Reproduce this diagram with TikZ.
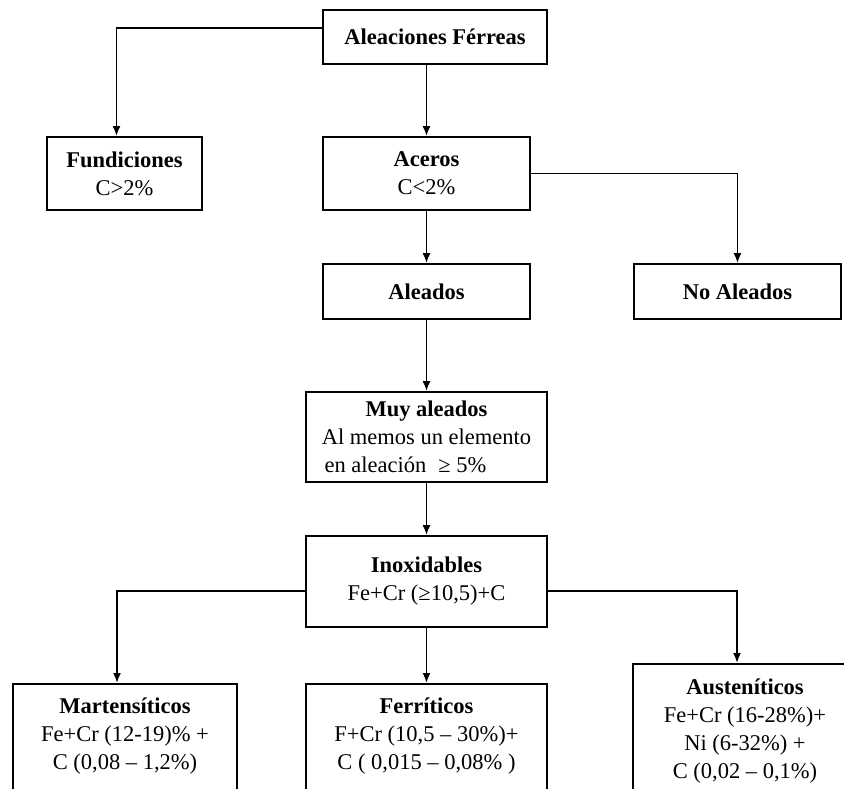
\documentclass[tikz,border=0pt]{standalone}
\usepackage{fontspec}
\setmainfont{Liberation Serif}
\usetikzlibrary{shapes,arrows.meta}
\tikzstyle{block} = [rectangle, draw, line width=1.8pt, align=center,
    inner sep=6pt, font=\fontsize{22.5}{28}\selectfont]
\tikzstyle{lowblock} = [block, anchor=north, inner ysep=14pt]
\tikzstyle{link} = [draw, line width=1.8pt, -{Latex[length=10pt,width=8pt]}]

\begin{document}
\begin{tikzpicture}[x=1pt, y=-1pt, node distance=136.5pt]
    \clip (0,0) rectangle (844,789);
    % Place nodes
    \node [block, minimum width=224pt, minimum height=54pt] (fer) at (435,37) {\textbf{Aleaciones Férreas}};
    \node [block, below of=fer, xshift=-8.5pt, minimum width=207pt, minimum height=73pt] (ace) {\textbf{Aceros}\\C<2\%};
    \node [block, left of=ace, node distance=302pt, minimum width=155pt, minimum height=73pt] (fun) {\textbf{Fundiciones}\\C>2\%};
    \node [block, below of=ace, node distance=118pt, minimum width=207pt, minimum height=55pt] (ale) {\textbf{Aleados}};
    \node [block, right of=ale, node distance=311pt, minimum width=207pt, minimum height=55pt] (noale) {\textbf{No Aleados}};
    \node [block, below of=ale, node distance=145.5pt, minimum width=241pt, minimum height=90pt] (muy) {\textbf{Muy aleados}\\
                                          Al memos un elemento\hspace*{15pt}\\
                                          en aleación\hspace{12pt}≥ 5\%\hspace*{42pt}};
    \node [block, below of=muy, node distance=144.5pt, minimum width=241pt, minimum height=91pt] (inox) {\textbf{Inoxidables}\\Fe+Cr (≥10,5)+C};
    \node [below of=inox, node distance=101.5pt, xshift=-301.5pt, lowblock, minimum width=224pt] (mart) {\textbf{Martensíticos}\\
                                          Fe+Cr (12-19)\% +\\C (0,08 – 1,2\%)\\~\\~};
    \node [below of=inox, node distance=101.5pt, lowblock, minimum width=241pt] (ferr) {\textbf{Ferríticos}\\
                                          F+Cr (10,5 – 30\%)+\\C ( 0,015 – 0,08\% )\\~\\~};
    \node [below of=inox, node distance=81.5pt, xshift=318.5pt, lowblock, inner ysep=15pt, minimum width=224pt] (aus) {\textbf{Austeníticos}\\
                                          Fe+Cr (16-28\%)+\\Ni (6-32\%) +\\C (0,02 – 0,1\%)\\~\\~};
    % Draw edges
    \path [link] ([yshift=9pt]fer.west) -| ([xshift=-8pt]fun.north);
    \path [link] (fer.south -| ace.north) -- (ace);
    \path [link] (ace) -| (noale);
    \path [link] (ace) -- (ale);
    \path [link] (ale) -- (muy);
    \path [link] (muy) -- (inox);
    \path [link] ([yshift=-9.5pt]inox.west) -| ([xshift=-8pt]mart.north);
    \path [link] (inox) -- (ferr);
    \path [link] ([yshift=-9.5pt]inox.east) -| ([xshift=-8pt]aus.north);
\end{tikzpicture}
\end{document}
